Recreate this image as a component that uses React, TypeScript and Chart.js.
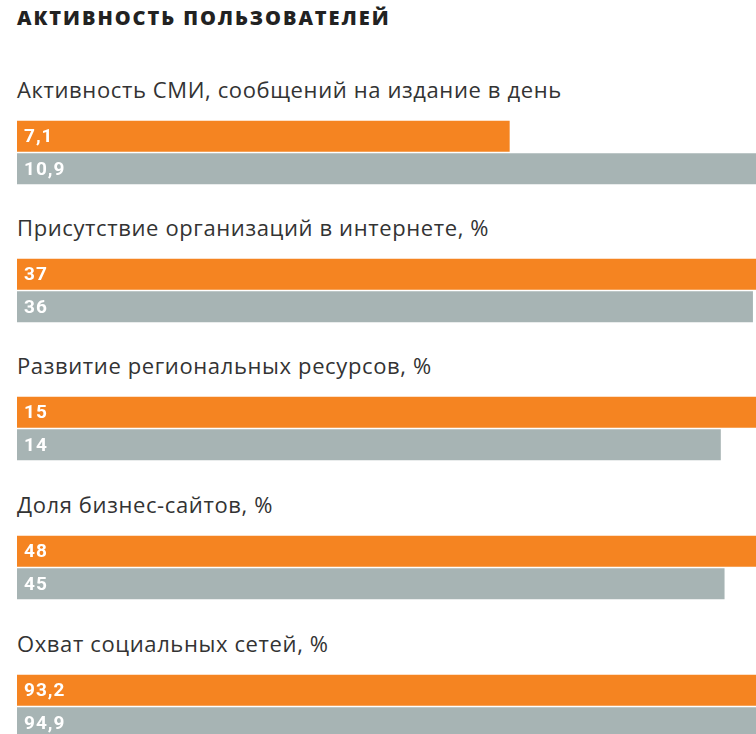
import React, { useEffect, useRef } from "react";
import { Chart, registerables } from "chart.js";

Chart.register(...registerables);

const title = "АКТИВНОСТЬ ПОЛЬЗОВАТЕЛЕЙ";
const categories = [
  "Активность СМИ, сообщений на издание в день",
  "Присутствие организаций в интернете, %",
  "Развитие региональных ресурсов, %",
  "Доля бизнес-сайтов, %",
  "Охват социальных сетей, %",
];
const orangeValues = [7.1, 37, 15, 48, 93.2];
const grayValues = [10.9, 36, 14, 45, 94.9];
const axisMax = [10.65, 36.15, 14.7, 47, 90];

const ORANGE = "#F58421";
const GRAY = "#A7B4B4";

const valueLabels = {
  id: "valueLabels",
  afterDatasetsDraw(chart: any) {
    const ctx = chart.ctx;
    ctx.save();
    ctx.fillStyle = "#ffffff";
    ctx.font = "bold 19px Roboto";
    try { (ctx as any).letterSpacing = "1px"; } catch (e) {}
    ctx.textBaseline = "middle";
    ctx.textAlign = "left";
    chart.data.datasets.forEach((ds: any, di: number) => {
      const meta = chart.getDatasetMeta(di);
      meta.data.forEach((bar: any, i: number) => {
        const v = ds.data[i];
        if (v == null) return;
        const txt = String(v).replace(".", ",");
        ctx.fillText(txt, chart.chartArea.left + 7, bar.y + 1);
      });
    });
    ctx.restore();
  },
};

function GroupChart({ index }: { index: number }) {
  const ref = useRef<HTMLCanvasElement>(null);
  useEffect(() => {
    if (!ref.current) return;
    const chart = new Chart(ref.current, {
      type: "bar",
      data: {
        labels: ["a", "b"],
        datasets: [
          {
            data: [orangeValues[index], grayValues[index]],
            backgroundColor: [ORANGE, GRAY],
            borderWidth: 0,
            barPercentage: 0.95,
            categoryPercentage: 1,
          },
        ],
      },
      options: {
        indexAxis: "y",
        responsive: false,
        animation: false,
        maintainAspectRatio: false,
        layout: { padding: 0 },
        plugins: { legend: { display: false }, tooltip: { enabled: false } },
        scales: {
          x: { display: false, min: 0, max: axisMax[index] },
          y: { display: false, offset: true },
        },
      },
      plugins: [valueLabels],
    });
    return () => chart.destroy();
  }, [index]);
  return <canvas ref={ref} width={739} height={65} style={{ display: "block" }} />;
}

const GROUP_TOPS = [120, 258, 396, 535, 674];

export default function App() {
  return (
    <div
      style={{
        position: "fixed",
        left: 0,
        top: 0,
        width: 756,
        height: 734,
        overflow: "hidden",
        background: "#fff",
      }}
    >
      <div
        style={{
          position: "absolute",
          left: 17,
          top: 5,
          fontFamily: "'Open Sans'",
          fontWeight: 800,
          fontSize: 20,
          letterSpacing: 1.95,
          color: "#222",
          lineHeight: "26px",
          whiteSpace: "nowrap",
        }}
      >
        {title}
      </div>
      {categories.map((c, i) => {
        const top = GROUP_TOPS[i];
        return (
          <React.Fragment key={i}>
            <div
              style={{
                position: "absolute",
                left: 17,
                top: top - 46,
                fontFamily: "'Open Sans'",
                fontWeight: 400,
                fontSize: 22,
                letterSpacing: 0.62,
                color: "#333",
                lineHeight: "30px",
                whiteSpace: "nowrap",
              }}
            >
              {c}
            </div>
            <div style={{ position: "absolute", left: 17, top }}>
              <GroupChart index={i} />
            </div>
          </React.Fragment>
        );
      })}
    </div>
  );
}
